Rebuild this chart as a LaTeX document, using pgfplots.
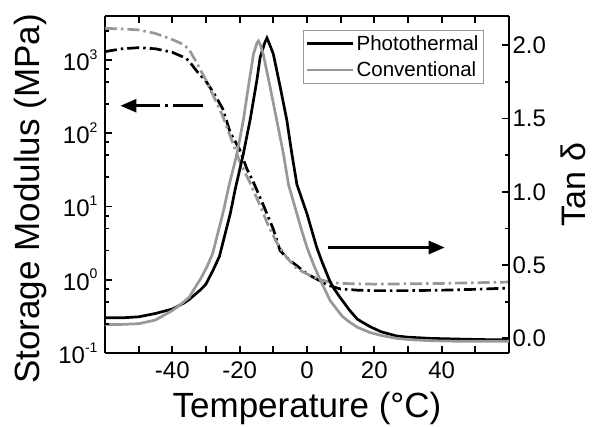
\documentclass[border=0pt]{standalone}
\usepackage{fontspec}
\setmainfont{Liberation Sans}
\usepackage{pgfplots}
\usepackage{pgfplotstable}
\pgfplotsset{compat=1.18}
\usetikzlibrary{arrows.meta}
\definecolor{cgray}{RGB}{152,152,152}

% Storage modulus, photothermal
\pgfplotstableread{
T E
-60 1300
-55 1420
-50 1470
-45 1420
-40 1270
-36 1060
-35 960
-32.6 690
-30 513
-27.5 340
-25 214
-22.8 102
-20 60
-17.9 33
-15.9 21.4
-13 10.5
-10 4.9
-8 2.5
-5.5 1.9
-3 1.55
0 1.2
2.9 1.02
6 0.85
9.8 0.75
15 0.72
20 0.71
30 0.71
40 0.72
50 0.74
60 0.77
}\storPT

% Storage modulus, conventional
\pgfplotstableread{
T E
-60 2700
-55 2650
-50 2570
-45 2300
-40 1900
-36.6 1620
-35 1380
-33 960
-31.7 740
-30 530
-27.8 324
-25 170
-22.8 91
-19.9 40
-16.9 21
-13.9 10.2
-11.5 5.5
-9 3.2
-6 2.0
-3 1.41
0 1.2
1.8 1.1
4 1.0
6.8 0.93
10 0.89
20 0.87
30 0.88
40 0.89
50 0.91
60 0.93
}\storCV

% tan delta, photothermal
\pgfplotstableread{
T D
-60 0.14
-55 0.14
-50 0.147
-45 0.17
-40 0.20
-36.6 0.24
-35 0.265
-31.7 0.33
-30 0.37
-27.8 0.47
-26 0.56
-24.8 0.67
-22.8 0.85
-21.3 1.02
-18.9 1.26
-16.9 1.49
-14.9 1.76
-13.9 1.92
-12.5 2.02
-11.9 2.05
-11 2.0
-10 1.94
-8 1.72
-6 1.49
-4.5 1.26
-3 1.05
-1.5 0.95
0 0.85
1.5 0.73
2.9 0.62
4.5 0.52
5.9 0.44
6.8 0.39
8 0.34
9.8 0.28
12.7 0.19
15 0.13
18.7 0.08
22 0.045
26.6 0.016
30 0.008
36.4 0.0
45 -0.005
56 -0.01
60 -0.01
}\tanPT

% tan delta, conventional
\pgfplotstableread{
T D
-60 0.095
-55 0.095
-50 0.10
-45 0.125
-40 0.19
-37.6 0.23
-35 0.28
-33.7 0.33
-31.5 0.41
-29.7 0.49
-28 0.58
-26.8 0.69
-24.8 0.87
-23.3 1.03
-20.8 1.26
-18.9 1.49
-17.4 1.72
-15.9 1.94
-14.8 2.02
-14.4 2.03
-13.8 2.0
-13 1.94
-11 1.72
-9 1.49
-7 1.26
-5.5 1.05
-4 0.93
-3 0.85
-1.5 0.73
0 0.62
2 0.50
3.9 0.40
6 0.30
6.8 0.26
8.8 0.20
10.5 0.15
12.7 0.11
15 0.075
18.7 0.04
22 0.02
26.6 0.0
30 -0.008
36.4 -0.016
45 -0.02
56 -0.02
60 -0.02
}\tanCV

\newcommand{\expo}[1]{\raisebox{0.46em}{\fontsize{14}{14}\selectfont #1}}

\begin{document}
\begin{tikzpicture}
\useasboundingbox (-105pt,-74pt) rectangle (487pt,353pt);
\begin{axis}[
  at={(0pt,0pt)}, anchor=south west,
  scale only axis, width=404pt, height=337pt,
  xmin=-60, xmax=60, ymode=log, ymin=0.1, ymax=3981,
  axis x line*=bottom, axis y line*=left,
  axis line style={line width=1.6pt, -},
  tick align=inside,
  xtick style={line width=1.6pt, black},
  ytick style={line width=1.6pt, black},
  xtick={-50,-40,...,50},
  xticklabels={{},-40,{},-20,{},0,{},20,{},40,{}},
  ytick={0.1,1,10,100,1000},
  yticklabels={{10\expo{-1}},{10\expo{0}},{10\expo{1}},{10\expo{2}},{10\expo{3}}},
  minor ytick={0.25,0.5,0.75,2.5,5,7.5,25,50,75,250,500,750,2500},
  tick label style={font=\fontsize{24}{28}\selectfont},
  xticklabel style={yshift=-5pt},
  yticklabel style={xshift=-4pt},
  xlabel={Temperature (°C)}, ylabel={Storage Modulus (MPa)},
  label style={font=\fontsize{35}{40}\selectfont},
  xlabel style={at={(axis description cs:0.5,-0.19)}, anchor=base},
  ylabel style={at={(axis description cs:-0.225,0.457)}, anchor=north, inner sep=0pt, rotate=0},
]
\addplot[black, line width=2.7pt, dash pattern=on 12pt off 4pt on 2.5pt off 4pt] table[x=T,y=E] {\storPT};
\addplot[cgray, line width=2.7pt, dash pattern=on 12pt off 4pt on 2.5pt off 4pt] table[x=T,y=E] {\storCV};
\draw[black, line width=2.7pt, dash pattern=on 30pt off 5pt on 3pt off 5pt, -{Triangle[length=16pt,width=13pt]}] (axis cs:-31,237) -- (axis cs:-55.4,237);
\end{axis}
\begin{axis}[
  at={(0pt,0pt)}, anchor=south west,
  scale only axis, width=404pt, height=337pt,
  xmin=-60, xmax=60, ymin=-0.1, ymax=2.2,
  axis x line*=top, axis y line*=right,
  axis line style={line width=1.6pt, -},
  tick align=inside,
  xtick style={line width=1.6pt, black},
  ytick style={line width=1.6pt, black},
  xtick={-50,-40,...,50}, xticklabels={},
  ytick={0,0.5,1,1.5,2}, yticklabels={0.0,0.5,1.0,1.5,2.0},
  minor ytick={0.25,0.75,1.25,1.75},
  tick label style={font=\fontsize{24}{28}\selectfont},
  ylabel={Tan δ},
  label style={font=\fontsize{34}{40}\selectfont},
  ylabel style={at={(axis description cs:1.127,0.5)}, anchor=north, inner sep=0pt},
  legend style={at={(axis description cs:0.938,0.958)}, anchor=north east,
    draw=cgray, line width=0.8pt, font=\fontsize{20.5}{22}\selectfont,
    inner xsep=3pt, inner ysep=3pt, row sep=6pt},
  legend cell align=left,
  legend image code/.code={\draw[#1, solid, line width=2.7pt] (0pt,0pt) -- (46pt,0pt);},
  clip=false,
]
\addplot[black, line width=2.7pt] table[x=T,y=D] {\tanPT};
\addlegendentry{Photothermal}
\addplot[cgray, line width=2.7pt] table[x=T,y=D] {\tanCV};
\addlegendentry{Conventional}
\draw[black, line width=2.7pt, -{Triangle[length=16pt,width=13pt]}] (axis cs:6.2,0.62) -- (axis cs:40.9,0.62);
% tick marks (axis decoration)
\pgfplotsinvokeforeach{0.08333,0.16667,0.25,0.33333,0.41667,0.5,0.58333,0.66667,0.75,0.83333,0.91667}{
  \draw[black, line width=1.8pt] (rel axis cs:#1,0) -- (rel axis cs:#1,0.0208);
  \draw[black, line width=1.8pt] (rel axis cs:#1,1) -- (rel axis cs:#1,0.9792);
}
\pgfplotsinvokeforeach{0.21739,0.43478,0.65217,0.86957}{
  \draw[black, line width=1.8pt] (rel axis cs:0,#1) -- (rel axis cs:0.0173,#1);
}
\pgfplotsinvokeforeach{0.0865,0.1520,0.1902,0.3039,0.3693,0.4076,0.5213,0.5867,0.6250,0.7387,0.8041,0.8424,0.9561}{
  \draw[black, line width=1.8pt] (rel axis cs:0,#1) -- (rel axis cs:0.0099,#1);
}
\pgfplotsinvokeforeach{0.04348,0.26087,0.47826,0.69565,0.91304}{
  \draw[black, line width=1.8pt] (rel axis cs:1,#1) -- (rel axis cs:0.9827,#1);
}
\pgfplotsinvokeforeach{0.15217,0.36957,0.58696,0.80435}{
  \draw[black, line width=1.8pt] (rel axis cs:1,#1) -- (rel axis cs:0.9901,#1);
}
\end{axis}
\end{tikzpicture}
\end{document}
